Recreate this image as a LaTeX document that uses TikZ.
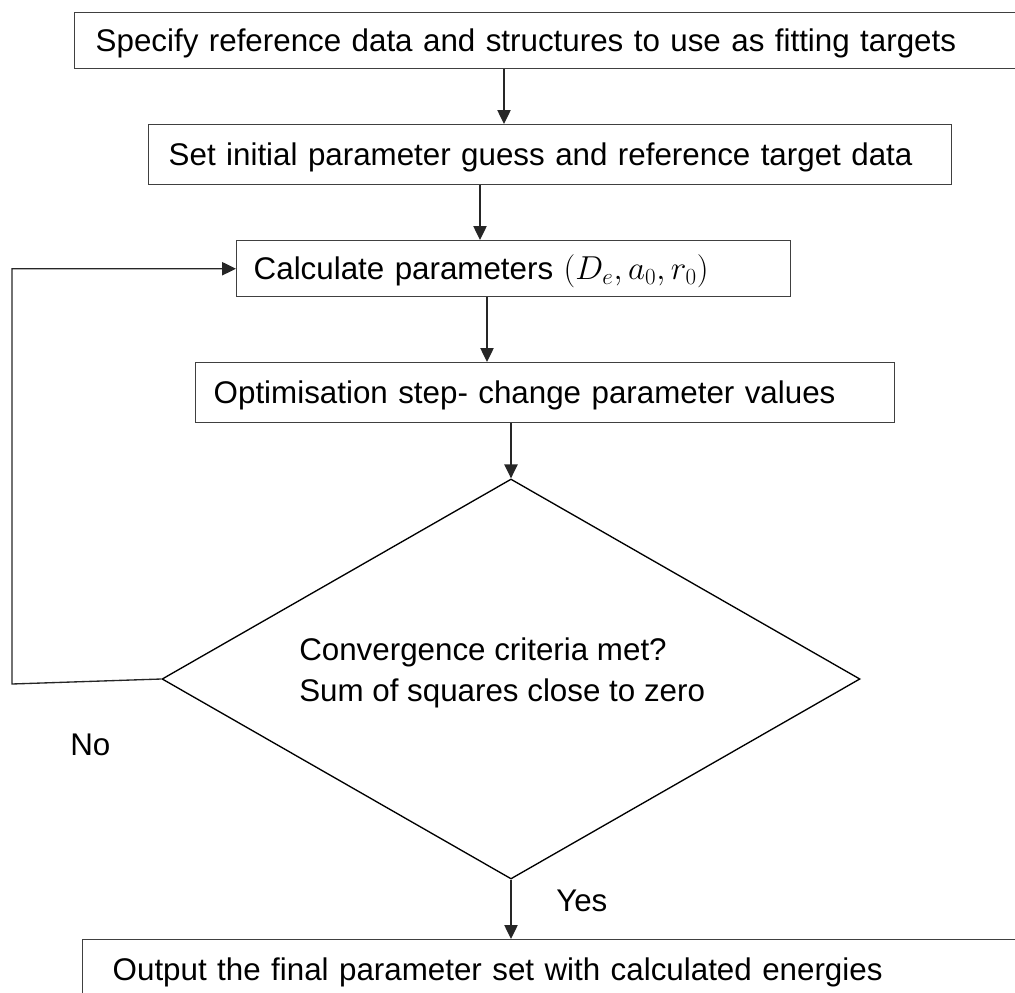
\documentclass[tikz,border=0pt]{standalone}
\usepackage{fontspec}
\setmainfont{Liberation Sans}
\usetikzlibrary{arrows.meta,shapes.geometric}
\begin{document}
\begin{tikzpicture}[x=0.75pt,y=-0.75pt,
  every node/.style={font=\fontsize{23.5pt}{31pt}\selectfont},
  box/.style={draw=black!75, line width=1.1pt, anchor=north west, align=left,
              inner ysep=0pt, text height=16.8pt, text depth=0pt},
  dia/.style={draw=black, line width=1pt, diamond, minimum width=523.5pt,
              minimum height=300pt, inner sep=0pt},
  arr/.style={draw=black!85, line width=1pt, -{Triangle[length=10.5pt,width=10pt]}},
  lbl/.style={inner sep=0pt, anchor=base west}
]
\useasboundingbox (0,0) rectangle (1015,993);
\clip (0,0) rectangle (1015,993);

\node[box, inner xsep=15.75pt, text width=685.5pt, minimum height=42pt] (spec) at (74,12)
  {Specify reference data and structures to use as fitting targets};
\node[box, inner xsep=15pt, text width=572.25pt, minimum height=45pt] (init) at (148,124)
  {Set initial parameter guess and reference target data};
\node[box, inner xsep=12.75pt, text width=390pt, minimum height=42pt] (calc) at (236,240)
  {Calculate parameters $(D_e, a_0, r_0)$};
\node[box, inner xsep=13.5pt, text width=497.25pt, minimum height=45pt] (opt) at (195,362)
  {Optimisation step- change parameter values};
\node[dia] (dec) at (511,679) {};
\node[inner sep=0pt, anchor=west, align=left] (dectext) at (299,673)
  {Convergence criteria met?\\Sum of squares close to zero};
\node[box, inner xsep=22.5pt, text width=667.5pt, minimum height=45pt] (out) at (82,939)
  {Output the final parameter set with calculated energies};

\node[lbl] (no) at (70,755) {No};
\node[lbl] (yes) at (556,911) {Yes};

\coordinate (c1) at (504,0);
\coordinate (c2) at (480,0);
\coordinate (c3) at (487,0);
\coordinate (fb) at (12,684);

\draw[arr] (spec.south -| c1) -- (init.north -| c1);
\draw[arr] (init.south -| c2) -- (calc.north -| c2);
\draw[arr] (calc.south -| c3) -- (opt.north -| c3);
\draw[arr] (opt.south -| dec.north) -- (dec.north);
\draw[arr] (dec.south) -- (out.north -| dec.south);
\draw[arr] (dec.west) -- (fb) |- (calc.west);
\end{tikzpicture}
\end{document}
